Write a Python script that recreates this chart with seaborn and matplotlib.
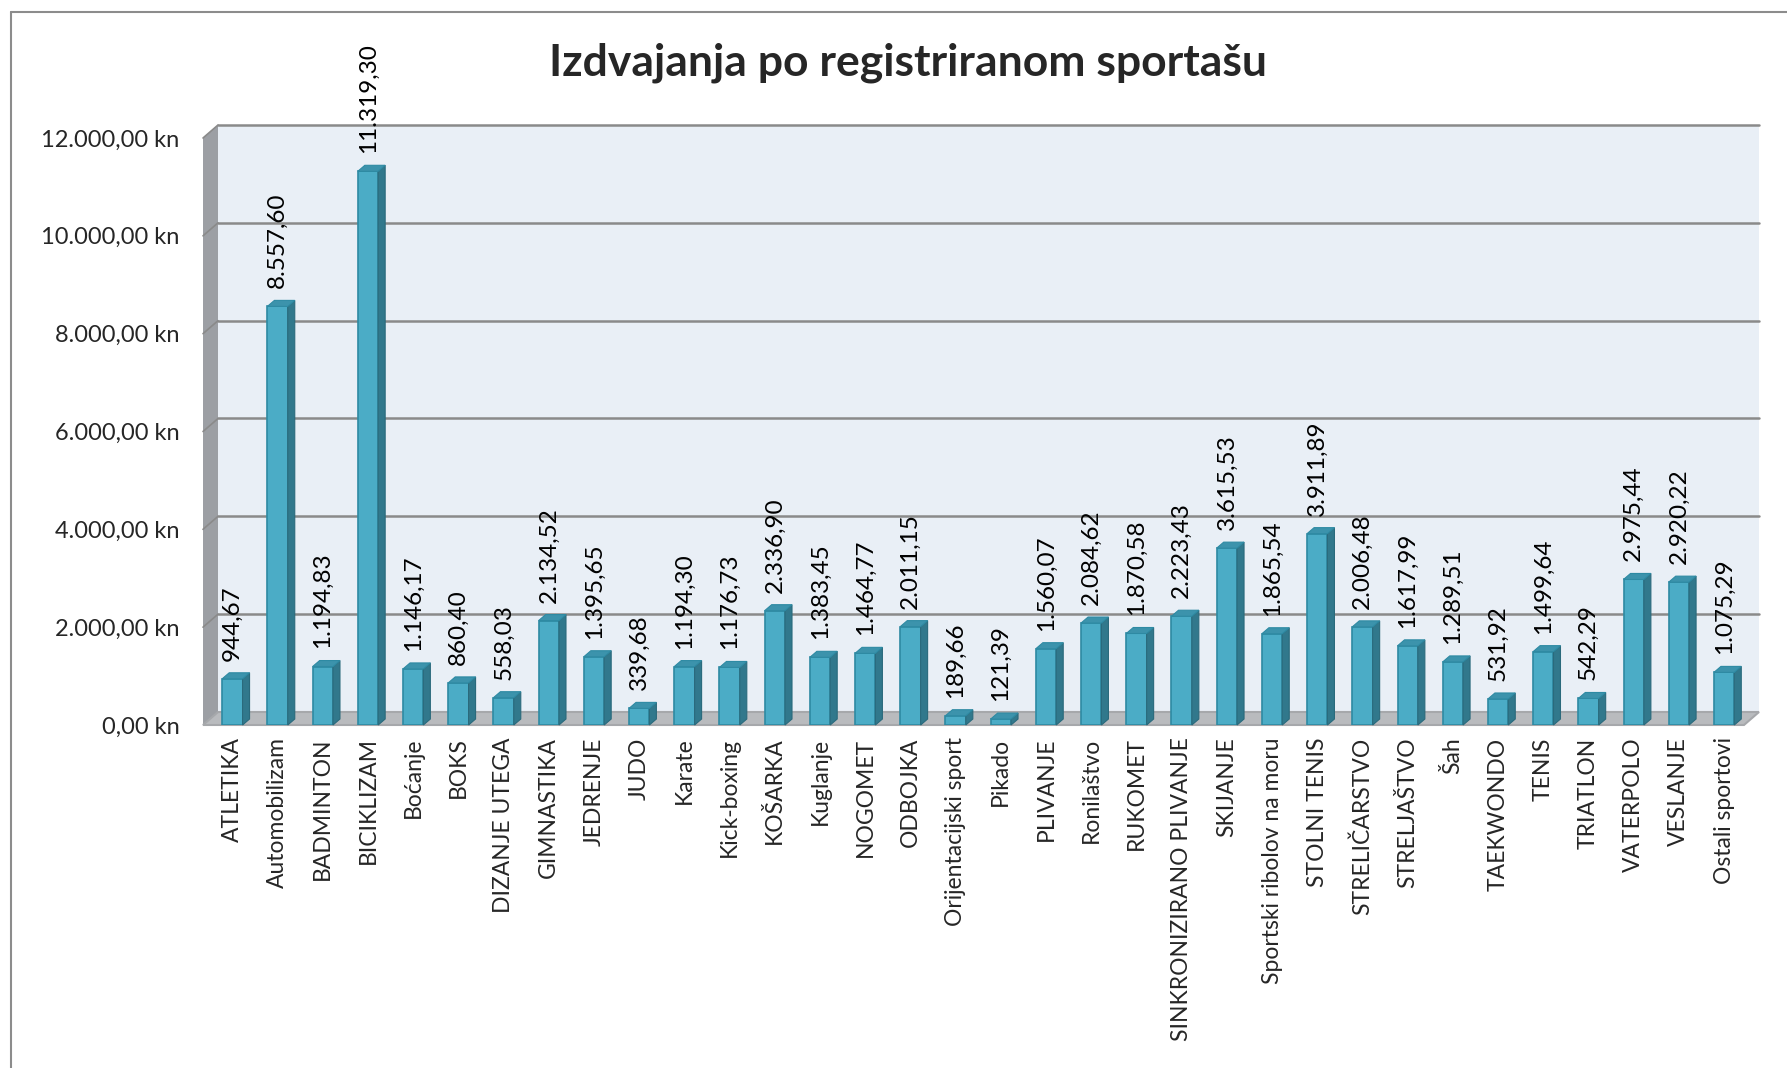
import numpy as np
import pandas as pd
import seaborn as sns
import matplotlib.pyplot as plt
from matplotlib.patches import Polygon
from matplotlib.lines import Line2D

# data
sports = ["ATLETIKA", "Automobilizam", "BADMINTON", "BICIKLIZAM", "Boćanje", "BOKS",
          "DIZANJE UTEGA", "GIMNASTIKA", "JEDRENJE", "JUDO", "Karate", "Kick-boxing",
          "KOŠARKA", "Kuglanje", "NOGOMET", "ODBOJKA", "Orijentacijski sport", "Pikado",
          "PLIVANJE", "Ronilaštvo", "RUKOMET", "SINKRONIZIRANO PLIVANJE", "SKIJANJE",
          "Sportski ribolov na moru", "STOLNI TENIS", "STRELIČARSTVO", "STRELJAŠTVO",
          "Šah", "TAEKWONDO", "TENIS", "TRIATLON", "VATERPOLO", "VESLANJE",
          "Ostali sportovi"]
amounts = [944.67, 8557.60, 1194.83, 11319.30, 1146.17, 860.40,
           558.03, 2134.52, 1395.65, 339.68, 1194.30, 1176.73,
           2336.90, 1383.45, 1464.77, 2011.15, 189.66, 121.39,
           1560.07, 2084.62, 1870.58, 2223.43, 3615.53,
           1865.54, 3911.89, 2006.48, 1617.99,
           1289.51, 531.92, 1499.64, 542.29, 2975.44, 2920.22,
           1075.29]
y_ticks = [0, 2000, 4000, 6000, 8000, 10000, 12000]

df = pd.DataFrame({"Sport": sports, "Iznos": amounts})


def hr(v):
    s = f"{v:,.2f}"
    return s.replace(",", "X").replace(".", ",").replace("X", ".")


sns.set_theme(style="white")
plt.rcParams["font.family"] = ["Lato", "DejaVu Sans"]

W, H = 1787, 1068
fig = plt.figure(figsize=(W / 100, H / 100), dpi=100)
ax = fig.add_axes([203 / W, 1 - 725 / H, (1744 - 203) / W, (725 - 138) / H])
ax.patch.set_visible(False)

front = "#4BACC6"
sns.barplot(data=df, x="Sport", y="Iznos", color=front, width=0.45,
            saturation=1, edgecolor="#2E8AA3", linewidth=1.2, ax=ax, zorder=3)

xmin, xmax = -0.65, len(sports) - 1 + 0.44
ax.set_xlim(xmin, xmax)
ax.set_ylim(0, 12000)
for s in ax.spines.values():
    s.set_visible(False)


def shift(x, y, dx, dy):
    p = ax.transData.transform((x, y))
    return ax.transData.inverted().transform(p + np.array([dx, dy]))


DX, DY = 15, 13
ytop = y_ticks[-1]

# back wall, side wall, floor
back = [shift(xmin, 0, DX, DY), shift(xmax, 0, DX, DY),
        shift(xmax, ytop, DX, DY), shift(xmin, ytop, DX, DY)]
ax.add_patch(Polygon(back, closed=True, facecolor="#E9EFF6", edgecolor="none",
                     zorder=0, clip_on=False))
side = [(xmin, 0), (xmin, ytop), shift(xmin, ytop, DX, DY), shift(xmin, 0, DX, DY)]
ax.add_patch(Polygon(side, closed=True, facecolor="#9C9FA4", edgecolor="none",
                     zorder=1, clip_on=False))
floor = [(xmin, 0), (xmax, 0), shift(xmax, 0, DX, DY), shift(xmin, 0, DX, DY)]
ax.add_patch(Polygon(floor, closed=True, facecolor="#B9BBBE", edgecolor="#A6A8AB",
                     lw=1.5, zorder=1, clip_on=False))

for v in y_ticks[1:]:
    a = shift(xmin, v, DX, DY)
    b = shift(xmax, v, DX, DY)
    ax.add_line(Line2D([a[0], b[0]], [a[1], b[1]], color="#8A8A8A", lw=1.8,
                       zorder=1, clip_on=False))
    c = (xmin, v)
    ax.add_line(Line2D([c[0], a[0]], [c[1], a[1]], color="#8A8A8A", lw=1.2,
                       zorder=1, clip_on=False))

# pseudo 3d faces on each bar
BX, BY = 7, 6
for p in ax.patches[:]:
    if not hasattr(p, "get_height") or p.get_width() > 1:
        continue
    x0 = p.get_x()
    x1 = x0 + p.get_width()
    h = p.get_height()
    side_face = [(x1, 0), (x1, h), shift(x1, h, BX, BY), shift(x1, 0, BX, BY)]
    top_face = [(x0, h), (x1, h), shift(x1, h, BX, BY), shift(x0, h, BX, BY)]
    ax.add_patch(Polygon(side_face, closed=True, facecolor="#31788C",
                         edgecolor="#2A6A7C", lw=0.8, zorder=3, clip_on=False))
    ax.add_patch(Polygon(top_face, closed=True, facecolor="#3C93AC",
                         edgecolor="#2E8AA3", lw=0.8, zorder=3, clip_on=False))

for i, v in enumerate(amounts):
    ax.annotate(hr(v), (i, v), xytext=(0, 13), textcoords="offset points",
                rotation=90, ha="center", va="bottom", fontsize=17.5, color="black")

ax.set_yticks(y_ticks)
ax.set_yticklabels([hr(v) + " kn" for v in y_ticks], fontsize=17)
ax.set_xticks(range(len(sports)))
ax.set_xticklabels(sports, rotation=90, fontsize=16.5)
ax.tick_params(axis="y", length=0, pad=17)
ax.tick_params(axis="x", length=0, pad=9)
ax.set_xlabel("")
ax.set_ylabel("")

fig.text(908 / W, 1 - 63 / H, "Izdvajanja po registriranom sportašu",
         ha="center", va="center", fontsize=32, fontweight="bold")

# chart area border
fig.add_artist(Line2D([11 / W, 11 / W], [0, 1 - 12 / H], transform=fig.transFigure,
                      color="#8C8C8C", lw=1.5))
fig.add_artist(Line2D([11 / W, 1], [1 - 12 / H, 1 - 12 / H], transform=fig.transFigure,
                      color="#8C8C8C", lw=1.5))

fig.savefig("out.png", dpi=100)
